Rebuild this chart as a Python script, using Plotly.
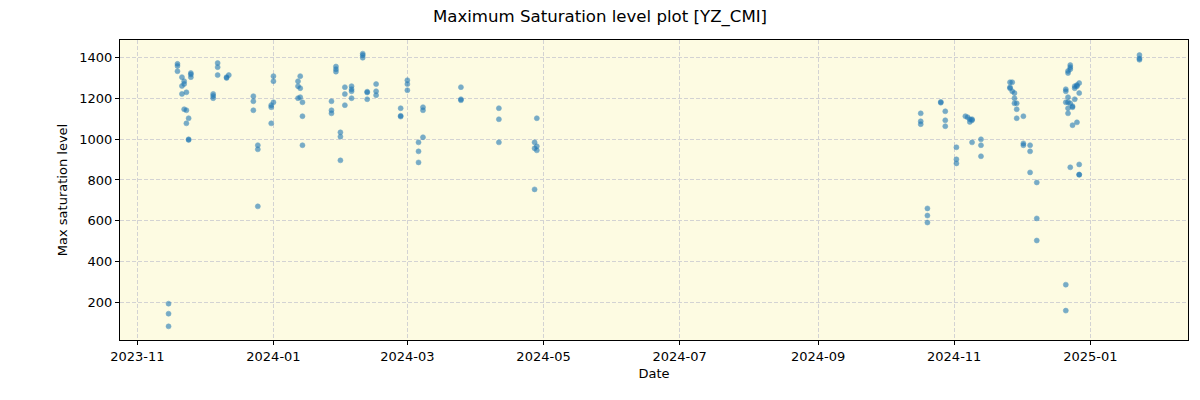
import pandas as pd
import plotly.graph_objects as go

# dias de medida y maximos leidos ese dia
dias = [
    "2023-11-15", "2023-11-19", "2023-11-21", "2023-11-22", "2023-11-23",
    "2023-11-24", "2023-11-25", "2023-12-05", "2023-12-07", "2023-12-11",
    "2023-12-12", "2023-12-23", "2023-12-25", "2023-12-31", "2024-01-01",
    "2024-01-12", "2024-01-13", "2024-01-14", "2024-01-27", "2024-01-29",
    "2024-01-31", "2024-02-02", "2024-02-05", "2024-02-10", "2024-02-12",
    "2024-02-16", "2024-02-27", "2024-03-01", "2024-03-06", "2024-03-08",
    "2024-03-25", "2024-04-11", "2024-04-27", "2024-04-28",
    "2024-10-17", "2024-10-20", "2024-10-26", "2024-10-28", "2024-11-02",
    "2024-11-06", "2024-11-07", "2024-11-08", "2024-11-09", "2024-11-13",
    "2024-11-26", "2024-11-27", "2024-11-28", "2024-11-29", "2024-12-02",
    "2024-12-05", "2024-12-08", "2024-12-21", "2024-12-22", "2024-12-23",
    "2024-12-24", "2024-12-25", "2024-12-26", "2024-12-27", "2025-01-23",
]
maximos = [
    [195, 146, 84], [1368, 1358, 1332], [1303, 1260, 1221], [1283, 1270, 1146], [1229, 1141, 1077],
    [1102, 999, 996], [1323, 1316, 1303], [1221, 1211, 1200], [1372, 1352, 1313], [1303, 1299],
    [1313], [1210, 1185, 1141], [970, 950, 671], [1166, 1156, 1077], [1308, 1283, 1180],
    [1283, 1259, 1200], [1308, 1249, 1205], [1180, 1112, 970], [1185, 1141, 1126], [1355, 1342, 1330],
    [1033, 1012, 896], [1254, 1220, 1166], [1259, 1244, 1234, 1200], [1418, 1410, 1398], [1232, 1228, 1195],
    [1269, 1234, 1215], [1151, 1114, 1110], [1288, 1269, 1239], [984, 940, 886], [1156, 1141, 1009],
    [1254, 1195, 1190], [1151, 1097, 984], [984, 955, 754], [1102, 965, 945],
    [1126, 1087, 1073], [661, 626, 592], [1182, 1178], [1136, 1092, 1063], [960, 901, 881],
    [1112], [1107], [1097, 1084], [1097, 1092, 984], [999, 970, 916],
    [1278, 1254, 1249], [1278, 1234], [1225, 1200, 1175], [1175, 1146, 1102], [1112, 979, 970],
    [970, 940, 837], [788, 612, 504], [288, 161, 1244, 1234, 1180], [1323, 1333, 1205, 1180, 1151, 1126],
    [1342, 1352, 1362, 1175, 862],
    [1161, 1156, 1068], [1195, 1259, 1249], [1082, 1264, 1259], [1274, 1225, 876, 827, 825], [1411, 1394, 1388],
]

filas = []
for d, vals in zip(dias, maximos):
    for v in vals:
        filas.append({"Date": pd.Timestamp(d), "Max": v})
df = pd.DataFrame(filas)

# margenes del 5% como matplotlib
x_min, x_max = df["Date"].min(), df["Date"].max()
dx = (x_max - x_min) * 0.05
y_min, y_max = df["Max"].min(), df["Max"].max()
dy = (y_max - y_min) * 0.05

fuente = "DejaVu Sans, Arial, sans-serif"

fig = go.Figure(go.Scatter(
    x=df["Date"], y=df["Max"], mode="markers",
    marker=dict(size=5, color="#1f77b4", opacity=0.6,
                line=dict(width=0.6, color="#1f77b4")),
    showlegend=False,
))

ejes = dict(
    showline=True, linecolor="black", linewidth=1, mirror=True,
    ticks="outside", ticklen=4, tickcolor="black",
    showgrid=True, gridcolor="#d3d3d3", griddash="4px,2px", gridwidth=0.8,
    zeroline=False, tickfont=dict(family=fuente, size=13, color="black"),
)

# la pagina añade 8px de margen al body: se compensa en los margenes
fig.update_layout(
    width=1200, height=400,
    margin=dict(l=112, r=20, t=32, b=68),
    paper_bgcolor="white", plot_bgcolor="#fdfbe2",
    title=dict(text="Maximum Saturation level plot [YZ_CMI]", x=592 / 1200, xanchor="center",
               y=0.98, yanchor="middle", font=dict(family=fuente, size=16.6, color="black")),
    xaxis=dict(ejes, range=[x_min - dx, x_max + dx], tickformat="%Y-%m",
               dtick="M2", tick0="2023-11-01",
               title=dict(text="Date", font=dict(family=fuente, size=13, color="black"), standoff=6)),
    yaxis=dict(ejes, range=[y_min - dy, y_max + dy], dtick=200, tick0=0,
               title=dict(text="Max saturation level", font=dict(family=fuente, size=13, color="black"), standoff=8)),
)

fig.write_html("out.html")
